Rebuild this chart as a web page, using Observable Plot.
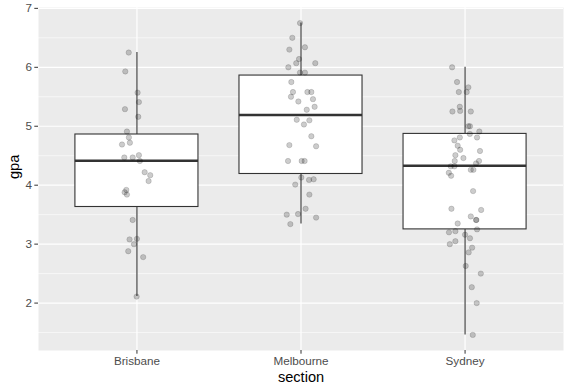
<!DOCTYPE html>
<html>
<head>
<meta charset="utf-8">
<script src="https://cdn.jsdelivr.net/npm/d3@7"></script>
<script src="https://cdn.jsdelivr.net/npm/@observablehq/plot@0.6"></script>
<style>
  html, body { margin: 0; padding: 0; background: white; }
  svg { display: block; }
</style>
</head>
<body>
<div id="chart"></div>
<script>
const sections = ["Brisbane", "Melbourne", "Sydney"];

const brisbaneGpa = [6.25, 5.93, 5.57, 5.41, 5.29, 5.16, 4.91, 4.81, 4.72, 4.69, 4.47, 4.47, 4.51, 4.41, 4.22, 4.17, 4.07, 3.92, 3.88, 3.84, 3.41, 3.08, 3.09, 3.0, 2.88, 2.78, 2.11];
const brisbaneJitter = [-0.05, -0.071, 0.004, 0.012, -0.073, 0.008, -0.061, -0.049, -0.043, -0.091, -0.077, -0.026, 0.012, 0.018, 0.047, 0.081, 0.071, -0.065, -0.075, -0.061, -0.026, -0.045, 0, -0.018, -0.053, 0.038, -0.002];

const melbourneGpa = [6.75, 6.50, 6.34, 6.30, 6.14, 6.07, 6.07, 6.0, 5.91, 5.91, 5.75, 5.58, 5.58, 5.58, 5.50, 5.46, 5.42, 5.33, 5.28, 5.11, 5.10, 5.03, 4.83, 4.68, 4.66, 4.41, 4.41, 4.41, 4.13, 4.09, 4.10, 4.01, 3.84, 3.60, 3.50, 3.51, 3.45, 3.34];
const melbourneJitter = [-0.006, -0.053, 0.024, -0.071, -0.012, -0.029, 0.087, -0.077, -0.006, 0.024, -0.059, -0.049, 0.039, 0.063, -0.061, 0.073, -0.016, 0.083, 0.035, -0.026, 0.051, 0.018, 0.063, -0.071, 0.092, -0.079, 0.004, 0.022, 0.002, 0.049, 0.077, -0.035, 0.051, 0.028, -0.087, -0.018, 0.092, -0.065];

const sydneyGpa = [6.0, 5.75, 5.66, 5.58, 5.58, 5.33, 5.25, 5.26, 5.25, 5.0, 5.0, 4.91, 4.87, 4.81, 4.81, 4.76, 4.67, 4.60, 4.58, 4.51, 4.46, 4.41, 4.41, 4.37, 4.32, 4.32, 4.21, 4.16, 4.26, 4.26, 3.90, 3.60, 3.58, 3.47, 3.41, 3.41, 3.35, 3.25, 3.20, 3.22, 3.16, 3.10, 3.0, 3.05, 2.94, 2.86, 2.63, 2.50, 2.27, 2.0, 1.46];
const sydneyJitter = [-0.079, -0.049, 0.02, -0.038, 0.01, -0.032, -0.077, -0.03, 0.035, 0.02, 0.03, 0.087, 0.029, -0.032, 0.073, -0.065, -0.045, -0.03, 0.091, -0.059, -0.01, -0.063, 0.085, 0.067, -0.087, -0.065, -0.099, -0.085, 0.035, 0.051, 0.049, -0.083, 0.098, 0.035, 0.069, 0.067, -0.045, 0.073, -0.098, -0.059, 0, 0.03, -0.093, -0.059, 0.043, 0.022, 0.004, 0.096, 0.041, 0.071, 0.047];

// box statistics
const boxQ1 = [3.63, 4.19, 3.25];
const boxMedian = [4.415, 5.19, 4.33];
const boxQ3 = [4.86, 5.86, 4.87];
const whiskerLow = [2.11, 3.34, 1.46];
const whiskerHigh = [6.25, 6.75, 6.0];

const yTicks = [2, 3, 4, 5, 6, 7];
const yMinor = [1.5, 2.5, 3.5, 4.5, 5.5, 6.5];

const gpaBySection = [brisbaneGpa, melbourneGpa, sydneyGpa];
const jitterBySection = [brisbaneJitter, melbourneJitter, sydneyJitter];

const points = sections.flatMap((s, i) =>
  gpaBySection[i].map((v, j) => ({pos: i + 1, gpa: v, jitter: jitterBySection[i][j]}))
);
const stats = sections.map((s, i) => ({
  pos: i + 1, q1: boxQ1[i], med: boxMedian[i], q3: boxQ3[i], lo: whiskerLow[i], hi: whiskerHigh[i]
}));
const positions = sections.map((s, i) => i + 1);
const halfWidth = 0.375;

const chart = Plot.plot({
  width: 571,
  height: 392,
  marginLeft: 38,
  marginRight: 8,
  marginTop: 7,
  marginBottom: 42,
  style: {background: "white", fontFamily: "'Liberation Sans', Arial, sans-serif", fontSize: "11.7px"},
  x: {type: "linear", domain: [0.4, 3.6], label: null},
  y: {domain: [1.1955, 7.0145], label: null},
  marks: [
    Plot.frame({fill: "#EBEBEB", stroke: null}),
    Plot.ruleY(yMinor, {stroke: "white", strokeWidth: 0.6}),
    Plot.ruleY(yTicks, {stroke: "white", strokeWidth: 1.2}),
    Plot.ruleX(positions, {stroke: "white", strokeWidth: 1.2}),
    Plot.ruleX(stats, {x: "pos", y1: "q3", y2: "hi", stroke: "#333333", strokeWidth: 1.1}),
    Plot.ruleX(stats, {x: "pos", y1: "lo", y2: "q1", stroke: "#333333", strokeWidth: 1.1}),
    Plot.rect(stats, {x1: d => d.pos - halfWidth, x2: d => d.pos + halfWidth, y1: "q1", y2: "q3", fill: "white", stroke: "#333333", strokeWidth: 1.1}),
    Plot.ruleY(stats, {y: "med", x1: d => d.pos - halfWidth, x2: d => d.pos + halfWidth, stroke: "#333333", strokeWidth: 2.6}),
    Plot.dot(points, {x: d => d.pos + d.jitter, y: "gpa", r: 2.7, fill: "black", fillOpacity: 0.2, stroke: "black", strokeOpacity: 0.2, strokeWidth: 0.7}),
    Plot.axisY({ticks: yTicks, tickFormat: d => String(d), tickSize: 3.7, tickPadding: 2.9, label: null, stroke: "#333333", fill: "#4D4D4D", fontSize: 11.7}),
    Plot.axisX({ticks: positions, tickFormat: d => sections[d - 1], tickSize: 3.7, tickPadding: 2.9, label: null, stroke: "#333333", fill: "#4D4D4D", fontSize: 11.7}),
    Plot.text(["section"], {frameAnchor: "bottom", dy: 27, fontSize: 14.6, fill: "black", lineAnchor: "middle"}),
    Plot.text(["gpa"], {frameAnchor: "left", dx: -24, rotate: -90, fontSize: 14.6, fill: "black", lineAnchor: "middle"})
  ]
});
document.getElementById("chart").appendChild(chart);
</script>
</body>
</html>
